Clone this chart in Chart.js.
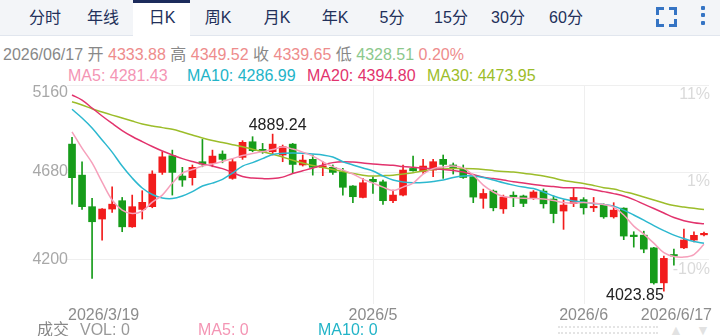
<!DOCTYPE html>
<html>
<head>
<meta charset="utf-8">
<script src="https://cdn.jsdelivr.net/npm/chart.js@4.4.1/dist/chart.umd.min.js"></script>
<style>
  body { margin: 0; width: 720px; height: 336px; overflow: hidden; background: #fff; position: relative;
         font-family: "Liberation Sans", "Noto Sans CJK SC", sans-serif; font-size: 16px; }
  .abs { position: absolute; white-space: nowrap; line-height: 20px; }
  #tabs { position: absolute; left: 0; top: 0; width: 720px; height: 35px; background: #f3f5f8; border-bottom: 1px solid #e1e6ee; }
  #tabs .tab { position: absolute; top: 8px; width: 60px; text-align: center; color: #22305a; line-height: 20px; }
  #sel { position: absolute; left: 133px; top: 0; width: 57px; height: 33px; background: #fff; border-top: 3px solid #1d2c5c; }
  .corner { position: absolute; width: 5px; height: 5px; border-color: #3574c4; border-style: solid; border-width: 0; }
  .dot { position: absolute; left: 701px; width: 4px; height: 4px; background: #3574c4; border-radius: 1px; }
  #chart { position: absolute; left: 0; top: 0; z-index: 2; }
</style>
</head>
<body>
<div id="tabs">
  <div id="sel"></div>
  <span class="tab" style="left:15px">分时</span>
  <span class="tab" style="left:73px">年线</span>
  <span class="tab" style="left:132px">日K</span>
  <span class="tab" style="left:188px">周K</span>
  <span class="tab" style="left:247px">月K</span>
  <span class="tab" style="left:305px">年K</span>
  <span class="tab" style="left:362px">5分</span>
  <span class="tab" style="left:421px">15分</span>
  <span class="tab" style="left:478px">30分</span>
  <span class="tab" style="left:536px">60分</span>
  <div class="corner" style="left:656px;top:7px;border-top-width:3px;border-left-width:3px"></div>
  <div class="corner" style="left:669px;top:7px;border-top-width:3px;border-right-width:3px"></div>
  <div class="corner" style="left:656px;top:19px;border-bottom-width:3px;border-left-width:3px"></div>
  <div class="corner" style="left:669px;top:19px;border-bottom-width:3px;border-right-width:3px"></div>
  <div class="dot" style="top:6px"></div>
  <div class="dot" style="top:13px"></div>
  <div class="dot" style="top:21px"></div>
</div>

<div class="abs" style="left:3px;top:45px;color:#888">2026/06/17 开 <span style="color:#ee8c8c">4333.88</span> 高 <span style="color:#ee8c8c">4349.52</span> 收 <span style="color:#ee8c8c">4339.65</span> 低 <span style="color:#8cc88c">4328.51</span> <span style="color:#ee8c8c">0.20%</span></div>

<div class="abs" style="left:68px;top:66px;color:#f495b4">MA5: 4281.43</div>
<div class="abs" style="left:187px;top:66px;color:#22b4c8">MA10: 4286.99</div>
<div class="abs" style="left:307px;top:66px;color:#e2336d">MA20: 4394.80</div>
<div class="abs" style="left:427px;top:66px;color:#9cbd2a">MA30: 4473.95</div>

<div style="position:absolute;left:558px;top:326px;width:100px;height:4px;border-top:2px dotted #e4e4e4;border-bottom:2px dotted #e4e4e4"></div>
<div class="abs" style="left:669px;top:320px;color:#e2e2e2;font-size:14px">▲</div>
<div class="abs" style="left:696px;top:320px;color:#e2e2e2;font-size:14px">▼</div>

<canvas id="chart" width="720" height="336"></canvas>

<script>
// trading days shown (2026)
const dates = [
  '3/19','3/20','3/23','3/24','3/25','3/26','3/27','3/30','3/31',
  '4/1','4/2','4/3','4/7','4/8','4/9','4/10','4/13','4/14','4/15','4/16','4/17','4/20','4/21','4/22','4/23','4/24','4/27','4/28','4/29','4/30',
  '5/1','5/4','5/5','5/6','5/7','5/8','5/11','5/12','5/13','5/14','5/15','5/18','5/19','5/20','5/21','5/22','5/25','5/26','5/27','5/28','5/29',
  '6/1','6/2','6/3','6/4','6/5','6/8','6/9','6/10','6/11','6/12','6/15','6/16','6/17'
];

const opens = [4834, 4663, 4489, 4421, 4476, 4522, 4378, 4474, 4489, 4678, 4770, 4658, 4649, 4737, 4728, 4779,
  4645, 4761, 4847, 4805, 4792, 4774, 4834, 4719, 4750, 4706, 4706, 4682, 4603, 4540, 4640, 4626,
  4522, 4553, 4700, 4682, 4691, 4750, 4719, 4697, 4654, 4535, 4575, 4477, 4551, 4548, 4535, 4575,
  4531, 4465, 4506, 4528, 4483, 4498, 4433, 4481, 4330, 4332, 4262, 4069, 4225, 4262, 4305, 4333.88];
const highs = [4871, 4737, 4535, 4478, 4599, 4540, 4553, 4577, 4687, 4792, 4801, 4706, 4719, 4860, 4801, 4797,
  4750, 4853, 4875, 4838, 4889.24, 4829, 4838, 4774, 4774, 4737, 4719, 4700, 4606, 4645, 4654, 4636,
  4581, 4719, 4768, 4750, 4750, 4774, 4730, 4719, 4660, 4586, 4581, 4553, 4571, 4553, 4578, 4587,
  4548, 4526, 4590, 4539, 4540, 4505, 4511, 4483, 4351, 4354, 4265, 4217, 4255, 4366, 4351, 4349.52];
const lows = [4503, 4474, 4094, 4305, 4458, 4351, 4375, 4421, 4483, 4667, 4553, 4601, 4608, 4709, 4709, 4731,
  4640, 4750, 4792, 4783, 4774, 4737, 4673, 4713, 4663, 4660, 4667, 4553, 4511, 4538, 4562, 4502,
  4511, 4548, 4685, 4673, 4654, 4645, 4669, 4645, 4511, 4480, 4466, 4452, 4489, 4489, 4529, 4481,
  4400, 4364, 4489, 4448, 4462, 4425, 4426, 4307, 4266, 4235, 4062, 4023.85, 4167, 4258, 4295, 4328.51];
const closes = [4649, 4489, 4406, 4476, 4503, 4378, 4489, 4513, 4669, 4764, 4678, 4636, 4706, 4724, 4768, 4750,
  4737, 4844, 4798, 4792, 4834, 4820, 4722, 4746, 4706, 4713, 4678, 4596, 4544, 4621, 4626, 4522,
  4553, 4691, 4687, 4713, 4737, 4722, 4699, 4650, 4542, 4562, 4483, 4542, 4544, 4507, 4570, 4505,
  4451, 4498, 4540, 4483, 4490, 4433, 4470, 4327, 4324, 4255, 4069, 4204, 4217, 4305, 4331, 4339.65];

// moving averages
const ma5 = [4902, 4812, 4730, 4625, 4526, 4470, 4451, 4465, 4514, 4553, 4619, 4674, 4694, 4713, 4724, 4738,
  4754, 4771, 4782, 4793, 4804, 4818, 4807, 4790, 4768, 4737, 4710, 4691, 4669, 4641, 4619, 4597,
  4578, 4597, 4619, 4669, 4699, 4708, 4713, 4702, 4663, 4608, 4570, 4545, 4539, 4535, 4534, 4531,
  4523, 4512, 4509, 4512, 4509, 4501, 4487, 4443, 4382, 4338, 4288, 4236, 4214, 4211, 4225, 4281.43];
const ma10 = [5026, 4978, 4923, 4857, 4790, 4713, 4647, 4592, 4556, 4537, 4534, 4548, 4572, 4603, 4619, 4640,
  4674, 4713, 4732, 4754, 4777, 4783, 4785, 4783, 4779, 4774, 4763, 4737, 4719, 4702, 4686, 4658,
  4636, 4625, 4621, 4622, 4628, 4636, 4650, 4658, 4658, 4650, 4636, 4621, 4608, 4597, 4589, 4570,
  4548, 4531, 4520, 4514, 4507, 4501, 4492, 4470, 4443, 4415, 4385, 4357, 4332, 4313, 4297, 4286.99];
const ma20 = [5105, 5077, 5033, 4989, 4948, 4909, 4876, 4848, 4821, 4796, 4774, 4754, 4738, 4724, 4713, 4699,
  4677, 4655, 4647, 4644, 4644, 4652, 4672, 4687, 4702, 4719, 4732, 4737, 4735, 4730, 4724, 4720,
  4717, 4710, 4706, 4702, 4698, 4694, 4688, 4680, 4666, 4652, 4644, 4636, 4626, 4619, 4611, 4604,
  4600, 4594, 4594, 4592, 4583, 4572, 4561, 4548, 4528, 4503, 4479, 4454, 4429, 4412, 4401, 4394.80];
const ma30 = [5068, 5050, 5029, 5011, 4994, 4978, 4961, 4945, 4934, 4925, 4916, 4901, 4884, 4868, 4854, 4843,
  4831, 4820, 4806, 4792, 4778, 4763, 4745, 4730, 4716, 4705, 4694, 4683, 4672, 4663, 4658, 4660,
  4663, 4669, 4676, 4686, 4694, 4697, 4699, 4700, 4698, 4694, 4688, 4683, 4680, 4674, 4666, 4658,
  4647, 4633, 4625, 4617, 4606, 4594, 4586, 4572, 4559, 4542, 4526, 4509, 4495, 4487, 4480, 4473.95];

const priceTicks = [5160, 4680, 4200];
const pctTicks = ['11%', '1%', '-10%'];
const monthLines = ['5/1', '6/1'];
const axisLabels = ['2026/3/19', '2026/5', '2026/6', '2026/6/17'];
const axisLabelDates = ['3/19', '5/1', '6/1', '6/17'];

const upColor = '#f21c1c';
const downColor = '#169c1a';
const FONT = '16px "Liberation Sans", "Noto Sans CJK SC", sans-serif';

const candleColors = closes.map((c, i) => c >= opens[i] ? upColor : downColor);

const overlay = {
  id: 'overlay',
  beforeDatasetsDraw(chart) {
    const { ctx, chartArea: a, scales: { x, y } } = chart;
    ctx.save();
    ctx.strokeStyle = '#efefef';
    ctx.lineWidth = 1;
    priceTicks.forEach(v => {
      const py = Math.round(y.getPixelForValue(v)) + 0.5;
      ctx.beginPath(); ctx.moveTo(a.left, py); ctx.lineTo(a.right, py); ctx.stroke();
    });
    monthLines.forEach(d => {
      const px = Math.round(x.getPixelForValue(dates.indexOf(d))) + 0.5;
      ctx.beginPath(); ctx.moveTo(px, a.top); ctx.lineTo(px, a.bottom + 5); ctx.stroke();
    });
    ctx.restore();
  },
  afterDraw(chart) {
    const { ctx, chartArea: a, scales: { x, y } } = chart;
    ctx.save();
    ctx.font = FONT;

    // price labels (left) and percent labels (right)
    priceTicks.forEach((v, i) => {
      const py = y.getPixelForValue(v);
      ctx.fillStyle = '#a8a8a8';
      ctx.textAlign = 'right';
      ctx.textBaseline = 'middle';
      ctx.fillText(String(v), a.left + 1, Math.max(py, a.top + 8));
      ctx.fillStyle = '#dadada';
      ctx.textBaseline = 'top';
      ctx.fillText(pctTicks[i], a.right + 1, py + 2);
    });

    // date labels
    ctx.fillStyle = '#8c8c8c';
    ctx.textBaseline = 'alphabetic';
    ctx.textAlign = 'left';
    axisLabels.forEach((t, i) => {
      const px = x.getPixelForValue(dates.indexOf(axisLabelDates[i]));
      const w = ctx.measureText(t).width;
      let left = px - w / 2;
      left = Math.max(left, a.left + 1);
      left = Math.min(left, a.right + 3 - w);
      ctx.fillText(t, left, 320);
    });

    // highest / lowest markers
    const hi = highs.indexOf(Math.max(...highs));
    const lo = lows.indexOf(Math.min(...lows));
    ctx.fillStyle = '#222';
    ctx.textAlign = 'center';
    ctx.fillText(highs[hi].toFixed(2), x.getPixelForValue(hi) + 5, y.getPixelForValue(highs[hi]) - 4);
    ctx.textAlign = 'right';
    ctx.fillText(lows[lo].toFixed(2), x.getPixelForValue(lo), y.getPixelForValue(lows[lo]) + 9);

    // volume row
    ctx.textAlign = 'left';
    ctx.fillStyle = '#888';
    ctx.fillText('成交', 37, 335);
    ctx.fillStyle = '#999';
    ctx.fillText('VOL: 0', 80, 335);
    ctx.fillStyle = '#f495b4';
    ctx.fillText('MA5: 0', 198, 335);
    ctx.fillStyle = '#22b4c8';
    ctx.fillText('MA10: 0', 318, 335);
    ctx.restore();
  }
};

const maLine = (label, data, color) => ({
  type: 'line',
  label: label,
  data: data,
  borderColor: color,
  borderWidth: 1.5,
  pointRadius: 0,
  tension: 0.35,
  fill: false,
  order: 0
});

new Chart(document.getElementById('chart'), {
  type: 'bar',
  data: {
    labels: dates,
    datasets: [
      maLine('MA5', ma5, '#f6a0bb'),
      maLine('MA10', ma10, '#2cb8cf'),
      maLine('MA20', ma20, '#e2336d'),
      maLine('MA30', ma30, '#9cbd2a'),
      {
        label: 'body',
        data: opens.map((o, i) => [o, closes[i]]),
        backgroundColor: candleColors,
        barThickness: 7,
        minBarLength: 1.5,
        grouped: false,
        order: 1
      },
      {
        label: 'wick',
        data: lows.map((l, i) => [l, highs[i]]),
        backgroundColor: candleColors,
        barThickness: 1,
        grouped: false,
        order: 2
      }
    ]
  },
  plugins: [overlay],
  options: {
    responsive: false,
    animation: false,
    events: [],
    layout: { padding: { left: 67, right: 11, top: 85, bottom: 37 } },
    scales: {
      x: { display: false, offset: true },
      y: { display: false, min: 3980, max: 5160 }
    },
    plugins: {
      legend: { display: false },
      tooltip: { enabled: false }
    }
  }
});
</script>
</body>
</html>
